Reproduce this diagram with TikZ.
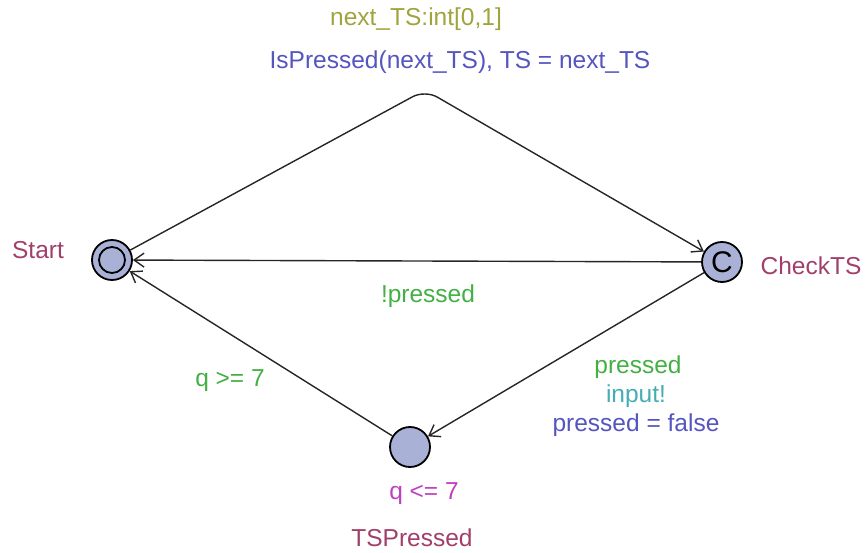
\documentclass[tikz,border=0pt]{standalone}
\usepackage{fontspec}
\setmainfont{Liberation Sans}
\usetikzlibrary{arrows.meta}
\definecolor{locfill}{HTML}{A9B1D6}
\definecolor{cname}{HTML}{A0406A}
\definecolor{cselect}{HTML}{A0A43C}
\definecolor{cupdate}{HTML}{5555C0}
\definecolor{cguard}{HTML}{44B044}
\definecolor{csync}{HTML}{44AEB4}
\definecolor{cinv}{HTML}{C040C0}
\tikzset{
  loc/.style={circle, draw=black, line width=1.8bp, fill=locfill, minimum size=40bp, inner sep=0pt},
  lbl/.style={font=\fontsize{24.6}{29}\selectfont, inner sep=0pt, anchor=center},
  edge/.style={draw=black!85, line width=1.4bp, -{Straight Barb[length=10bp,width=14bp,line width=1.4bp]}}
}
\begin{document}
\begin{tikzpicture}[x=1bp,y=-1bp]
\useasboundingbox (0,0) rectangle (868,553);
\node[loc] (start) at (112,260) {};
\node[circle, draw=black, line width=1.8bp, minimum size=26bp, inner sep=0pt] at (start) {};
\node[loc, font=\fontsize{30}{32}\selectfont] (check) at (722,262) {C};
\node[loc] (tsp) at (410,447) {};
\coordinate (apex) at (425,90);

\node[lbl, text=cname] (nstart) at (38,250) {Start};
\node[lbl, text=cname] (ncheck) at (811,266) {CheckTS};
\node[lbl, text=cname] (ntsp) at (412,538) {TSPressed};
\node[lbl, text=cinv] (inv) at (424,494) {q <= 7};

\node[lbl, text=cselect] (sel) at (416,19) {next\_TS:int[0,1]};
\node[lbl, text=cupdate] (upd1) at (460,62) {IsPressed(next\_TS), TS = next\_TS};
\node[lbl, text=cguard] (g1) at (428,296) {!pressed};
\node[lbl, text=cguard] (g2) at (230,381) {q >= 7};
\node[lbl, text=cguard] (g3) at (638,367) {pressed};
\node[lbl, text=csync] (s3) at (636,396) {input!};
\node[lbl, text=cupdate] (u3) at (636,425) {pressed = false};

\draw[edge, rounded corners=14bp] (start) -- (apex) -- (check);
\draw[edge] (check) -- (start);
\draw[edge] (check) -- (tsp);
\draw[edge] (tsp) -- (start);
\end{tikzpicture}
\end{document}
